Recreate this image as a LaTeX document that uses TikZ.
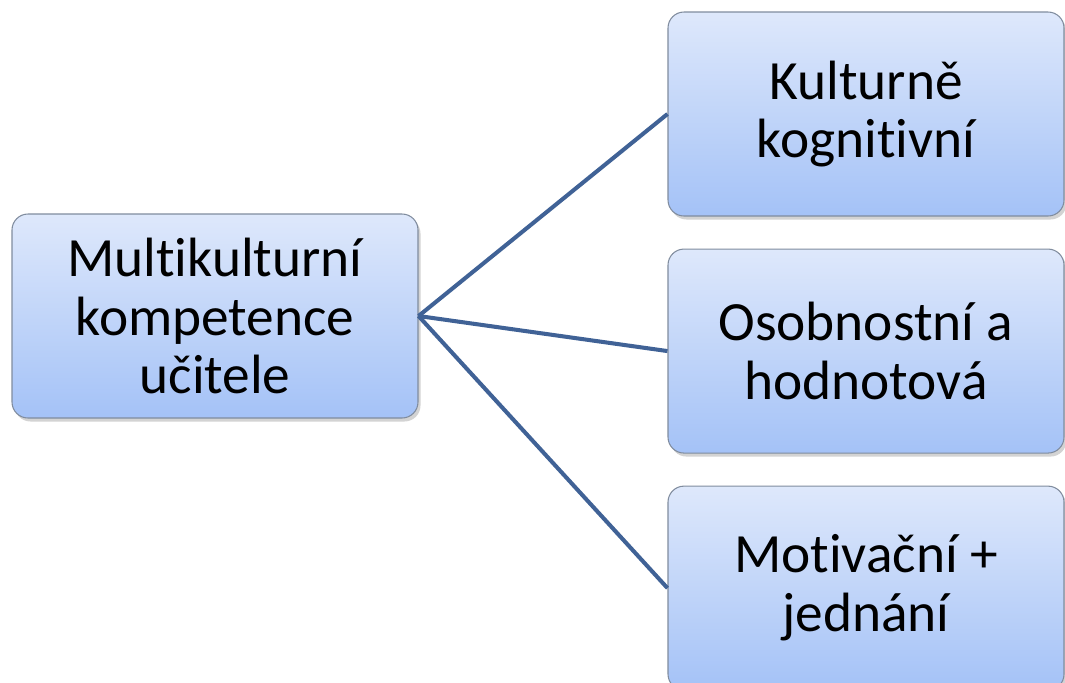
\documentclass[tikz,border=0pt]{standalone}
\usepackage{fontspec}
\setmainfont[RawFeature={-liga;-clig;-calt;-dlig}]{Carlito}
\usepackage{tikz}
\usetikzlibrary{positioning, shadows}

\definecolor{boxtop}{RGB}{222,232,251}
\definecolor{boxbottom}{RGB}{164,194,247}
\definecolor{boxline}{RGB}{128,140,158}
\definecolor{linkblue}{RGB}{64,98,150}

\begin{document}
\begin{tikzpicture}[
    every node/.style={draw=boxline, line width=0.6pt, rounded corners=0.32cm,
        top color=boxtop, bottom color=boxbottom, align=center,
        minimum height=4.08cm, inner sep=0pt,
        font=\fontsize{31.5}{33.5}\selectfont,
        drop shadow={shadow xshift=0.05cm, shadow yshift=-0.07cm, opacity=0.35}},
    rootbox/.style={minimum width=8.12cm},
    leafbox/.style={minimum width=7.92cm},
    link/.style={draw=linkblue, line width=2.3pt}
]
\useasboundingbox (0,0) rectangle (21.3,-13.64);
\clip (0,0) rectangle (21.3,-13.64);

\node[rootbox] (root) at (4.30,-6.32) {Multikulturní\\kompetence\\učitele};
\node[leafbox] (cog) at (17.32,-2.28) {Kulturně\\kognitivní};
\node[leafbox, below=0.64cm of cog] (val) {Osobnostní a\\hodnotová};
\node[leafbox, below=0.64cm of val] (mot) {Motivační +\\jednání};

\draw[link] (root.east) -- (cog.west);
\draw[link] (root.east) -- (val.west);
\draw[link] (root.east) -- (mot.west);
\end{tikzpicture}
\end{document}
